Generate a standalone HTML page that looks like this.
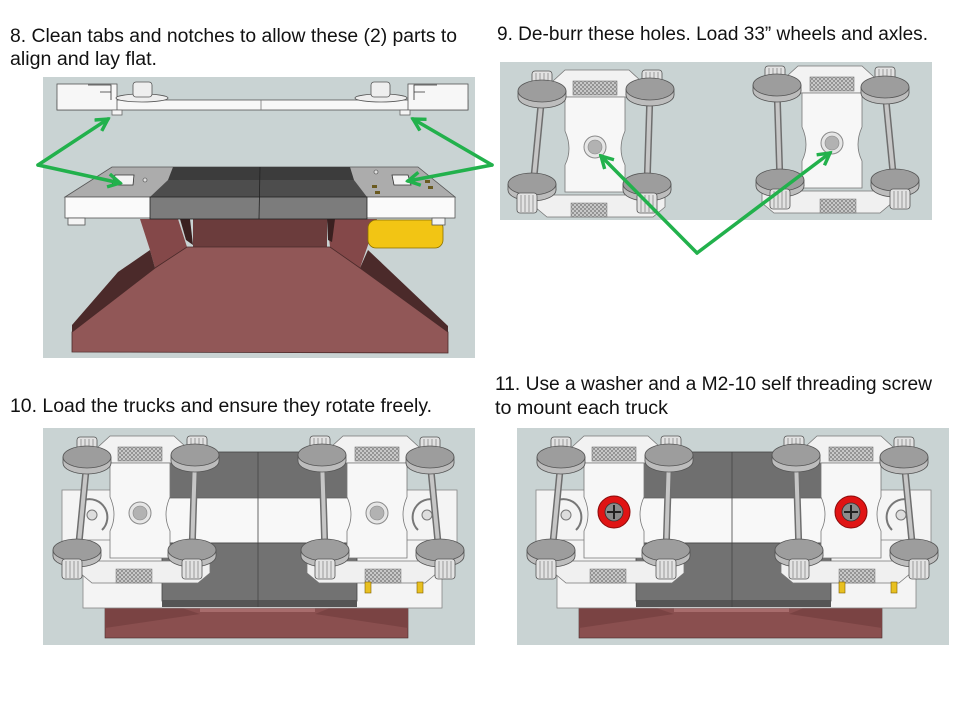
<!DOCTYPE html>
<html><head><meta charset="utf-8"><style>
html,body{margin:0;padding:0;background:#fff;}
svg{display:block}
text{font-family:"Liberation Sans",sans-serif;font-size:19px;fill:#111;}
</style></head><body>
<svg width="960" height="720" viewBox="0 0 960 720" xmlns="http://www.w3.org/2000/svg">
<defs>
<pattern id="hatch" width="4" height="4" patternUnits="userSpaceOnUse">
<rect width="4" height="4" fill="#d6d6d6"/>
<path d="M0,4 L4,0 M0,0 L4,4" stroke="#888" stroke-width="0.8"/>
</pattern>
<marker id="ah" viewBox="0 0 12 12" refX="10" refY="6" markerWidth="4.5" markerHeight="4.5" orient="auto" markerUnits="strokeWidth">
<path d="M1,1 L10,6 L1,11" fill="none" stroke="#22b14c" stroke-width="2.6" stroke-linejoin="miter"/>
</marker>
<g id="wheel">
<ellipse cy="6" rx="24" ry="11" fill="#bdbdbd" stroke="#555" stroke-width="0.8"/>
<rect x="-24" y="0" width="48" height="6" fill="#bdbdbd"/>
<line x1="-24" y1="0" x2="-24" y2="6" stroke="#555" stroke-width="0.8"/>
<line x1="24" y1="0" x2="24" y2="6" stroke="#555" stroke-width="0.8"/>
<ellipse rx="24" ry="11" fill="#9d9d9d" stroke="#555" stroke-width="0.8"/>
</g>
<g id="bolt">
<rect x="-10" y="0" width="20" height="20" rx="3" fill="#e2e2e2" stroke="#555" stroke-width="0.8"/>
<path d="M-6,2 V19 M-2,2 V19 M2,2 V19 M6,2 V19" stroke="#888" stroke-width="0.8"/>
</g>
<g id="truck">
<path d="M-42,-66 L-30,-77 L34,-77 L46,-66 L46,-50 L-42,-50 Z" fill="#f2f2f2" stroke="#777" stroke-width="0.8"/>
<rect x="-22" y="-66" width="44" height="14" fill="url(#hatch)" stroke="#777" stroke-width="0.6"/>
<path d="M-60,48 L70,48 L70,60 L58,70 L-48,70 L-60,60 Z" fill="#f0f0f0" stroke="#777" stroke-width="0.8"/>
<rect x="-24" y="56" width="36" height="14" fill="url(#hatch)" stroke="#777" stroke-width="0.5"/>
<path d="M-30,-50 L30,-50 L30,-16 Q22,2 30,18 L30,45 L-30,45 L-30,18 Q-22,2 -30,-16 Z" fill="#f7f7f7" stroke="#777" stroke-width="0.8"/>
<circle r="11" fill="#e6e6e6" stroke="#8a8a8a"/>
<circle r="7" fill="#b2b2b2" stroke="#888" stroke-width="0.6"/>
<use href="#bolt" transform="translate(-53,-76)"/>
<use href="#bolt" transform="translate(57,-77)"/>
<line x1="-53" y1="-53" x2="-62" y2="40" stroke="#6e6e6e" stroke-width="7"/>
<line x1="-53" y1="-53" x2="-62" y2="40" stroke="#c6c6c6" stroke-width="4"/>
<line x1="55" y1="-55" x2="52" y2="40" stroke="#6e6e6e" stroke-width="7"/>
<line x1="55" y1="-55" x2="52" y2="40" stroke="#c6c6c6" stroke-width="4"/>
<use href="#wheel" transform="translate(-53,-56)"/>
<use href="#wheel" transform="translate(55,-58)"/>
<use href="#wheel" transform="translate(-63,37)"/>
<use href="#wheel" transform="translate(52,37)"/>
<use href="#bolt" transform="translate(-68,46)"/>
<use href="#bolt" transform="translate(52,46)"/>
</g>
<g id="p3">
<rect x="43" y="428" width="432" height="217" fill="#c9d3d3"/>
<rect x="105" y="604" width="303" height="34" fill="#8a4f4f" stroke="#4a2a2a" stroke-width="0.6"/>
<polygon points="105,604 170,604 200,614 105,628" fill="#7a4343"/>
<polygon points="408,604 340,604 315,614 408,628" fill="#7a4343"/>
<rect x="200" y="606" width="115" height="6" fill="#a86c6c"/>
<rect x="62" y="490" width="395" height="52" fill="#f4f4f4" stroke="#888" stroke-width="0.8"/>
<rect x="83" y="540" width="359" height="68" fill="#f4f4f4" stroke="#888" stroke-width="0.8"/>
<rect x="162" y="452" width="195" height="46" fill="#6f6f6f" stroke="#444" stroke-width="0.8"/>
<rect x="162" y="498" width="195" height="45" fill="#f8f8f8" stroke="#666" stroke-width="0.8"/>
<rect x="162" y="543" width="195" height="58" fill="#727272" stroke="#444" stroke-width="0.8"/>
<rect x="162" y="600" width="195" height="7" fill="#555"/>
<line x1="258" y1="452" x2="258" y2="607" stroke="#444" stroke-width="0.8"/>
<path d="M84,500 A18,18 0 0 1 102,530" fill="none" stroke="#777" stroke-width="2"/>
<circle cx="92" cy="515" r="5" fill="#ddd" stroke="#777"/>
<path d="M436,500 A18,18 0 0 0 418,530" fill="none" stroke="#777" stroke-width="2"/>
<circle cx="427" cy="515" r="5" fill="#ddd" stroke="#777"/>
<use href="#truck" transform="translate(140,513)"/>
<use href="#truck" transform="translate(377,513) scale(-1,1)"/>
<rect x="365" y="582" width="6" height="11" fill="#e8c020" stroke="#806000" stroke-width="0.6"/>
<rect x="417" y="582" width="6" height="11" fill="#e8c020" stroke="#806000" stroke-width="0.6"/>
</g>
</defs>

<rect width="960" height="720" fill="#fff"/>

<!-- Texts -->
<text x="10" y="42" textLength="447" lengthAdjust="spacingAndGlyphs">8. Clean tabs and notches to allow these (2) parts to</text>
<text x="10" y="65" textLength="147" lengthAdjust="spacingAndGlyphs">align and lay flat.</text>
<text x="497" y="40" textLength="431" lengthAdjust="spacingAndGlyphs">9. De-burr these holes. Load 33” wheels and axles.</text>
<text x="10" y="412" textLength="422" lengthAdjust="spacingAndGlyphs">10. Load the trucks and ensure they rotate freely.</text>
<text x="495" y="390" textLength="437" lengthAdjust="spacingAndGlyphs">11. Use a washer and a M2-10 self threading screw</text>
<text x="495" y="414" textLength="173" lengthAdjust="spacingAndGlyphs">to mount each truck</text>

<!-- Panel 1 -->
<rect x="43" y="77" width="432" height="281" fill="#c9d3d3"/>
<!-- brown base -->
<rect x="193" y="219" width="134" height="30" fill="#6b3c3c"/>
<polygon points="140,219 178,219 187,247 155,268 150,250" fill="#844849"/>
<polygon points="180,219 190,219 193,245 186,240" fill="#3a2020"/>
<polygon points="327,219 377,219 360,268 330,247" fill="#844849"/>
<polygon points="327,219 335,219 332,242 328,240" fill="#3a2020"/>
<polygon points="72,332 155,268 150,250 118,272 72,325" fill="#4b2a2a"/>
<polygon points="360,268 368,250 448,326 448,332" fill="#4b2a2a"/>
<polygon points="187,247 330,247 360,268 448,332 448,353 72,352 72,332 155,268" fill="#915757" stroke="#4a2a2a" stroke-width="0.8"/>
<rect x="368" y="220" width="75" height="28" rx="8" fill="#f2c514" stroke="#8a7000" stroke-width="0.8"/>
<!-- base plate -->
<polygon points="112,167 418,167 455,197 65,197" fill="#acacac" stroke="#555" stroke-width="0.8"/>
<rect x="65" y="197" width="390" height="21" fill="#fafafa" stroke="#555" stroke-width="0.8"/>
<polygon points="173,167 350,167 354,180 168,180" fill="#3c3c3c"/>
<polygon points="168,180 354,180 367,197 150,197" fill="#4d4d4d"/>
<rect x="150" y="197" width="217" height="22" fill="#7c7c7c" stroke="#222" stroke-width="0.8"/>
<line x1="260" y1="167" x2="259" y2="219" stroke="#222" stroke-width="0.8"/>
<polygon points="115,175 134,175 133,185 112,185" fill="#f4f4f4" stroke="#333" stroke-width="0.8"/>
<polygon points="392,175 408,175 411,185 394,185" fill="#f4f4f4" stroke="#333" stroke-width="0.8"/>
<circle cx="145" cy="180" r="2" fill="#ddd" stroke="#444" stroke-width="0.6"/>
<circle cx="376" cy="172" r="2" fill="#ddd" stroke="#444" stroke-width="0.6"/>
<rect x="372" y="185" width="5" height="3" fill="#6a5a20"/>
<rect x="375" y="191" width="5" height="3" fill="#6a5a20"/>
<rect x="425" y="180" width="5" height="3" fill="#6a5a20"/>
<rect x="428" y="186" width="5" height="3" fill="#6a5a20"/>
<rect x="68" y="218" width="17" height="7" fill="#f4f4f4" stroke="#555" stroke-width="0.8"/>
<rect x="432" y="218" width="13" height="7" fill="#f4f4f4" stroke="#555" stroke-width="0.8"/>
<!-- top plate -->
<rect x="57" y="100" width="411" height="10" fill="#f7f7f7" stroke="#555" stroke-width="0.8"/>
<rect x="57" y="84" width="60" height="26" fill="#f7f7f7" stroke="#555" stroke-width="0.8"/>
<rect x="408" y="84" width="60" height="26" fill="#f7f7f7" stroke="#555" stroke-width="0.8"/>
<path d="M88,85 L111,85 L111,100 M100,92 L111,92" fill="none" stroke="#333" stroke-width="0.8"/>
<path d="M437,85 L414,85 L414,100 M425,92 L414,92" fill="none" stroke="#333" stroke-width="0.8"/>
<ellipse cx="142" cy="98" rx="26" ry="4" fill="#eee" stroke="#555" stroke-width="0.8"/>
<rect x="133" y="82" width="19" height="15" rx="3" fill="#eee" stroke="#555" stroke-width="0.8"/>
<ellipse cx="381" cy="98" rx="26" ry="4" fill="#eee" stroke="#555" stroke-width="0.8"/>
<rect x="371" y="82" width="19" height="15" rx="3" fill="#eee" stroke="#555" stroke-width="0.8"/>
<line x1="261" y1="100" x2="261" y2="110" stroke="#777" stroke-width="0.8"/>
<rect x="112" y="110" width="10" height="5" fill="#f4f4f4" stroke="#666" stroke-width="0.8"/>
<rect x="400" y="110" width="10" height="5" fill="#f4f4f4" stroke="#666" stroke-width="0.8"/>

<!-- Panel 2 -->
<rect x="500" y="62" width="432" height="158" fill="#c9d3d3"/>
<use href="#truck" transform="translate(595,147)"/>
<use href="#truck" transform="translate(832,143) scale(-1,1)"/>

<!-- Panel 3 -->
<use href="#p3"/>

<!-- Panel 4 -->
<use href="#p3" transform="translate(474,0)"/>
<g>
<circle cx="614" cy="512" r="16" fill="#e01414" stroke="#8a0a0a" stroke-width="1"/>
<circle cx="614" cy="512" r="9" fill="#8c8c8c" stroke="#333" stroke-width="0.8"/>
<path d="M607,512 H621 M614,505 V519" stroke="#222" stroke-width="2"/>
<circle cx="851" cy="512" r="16" fill="#e01414" stroke="#8a0a0a" stroke-width="1"/>
<circle cx="851" cy="512" r="9" fill="#8c8c8c" stroke="#333" stroke-width="0.8"/>
<path d="M844,512 H858 M851,505 V519" stroke="#222" stroke-width="2"/>
</g>

<!-- Green arrows -->
<g stroke="#22b14c" stroke-width="3.5" fill="none" stroke-linecap="round">
<line x1="38" y1="165" x2="108" y2="119" marker-end="url(#ah)"/>
<line x1="38" y1="165" x2="120" y2="183" marker-end="url(#ah)"/>
<line x1="492" y1="165" x2="413" y2="119" marker-end="url(#ah)"/>
<line x1="492" y1="165" x2="408" y2="181" marker-end="url(#ah)"/>
<line x1="697" y1="253" x2="601" y2="156" marker-end="url(#ah)"/>
<line x1="697" y1="253" x2="830" y2="153" marker-end="url(#ah)"/>
</g>
</svg>
</body></html>
